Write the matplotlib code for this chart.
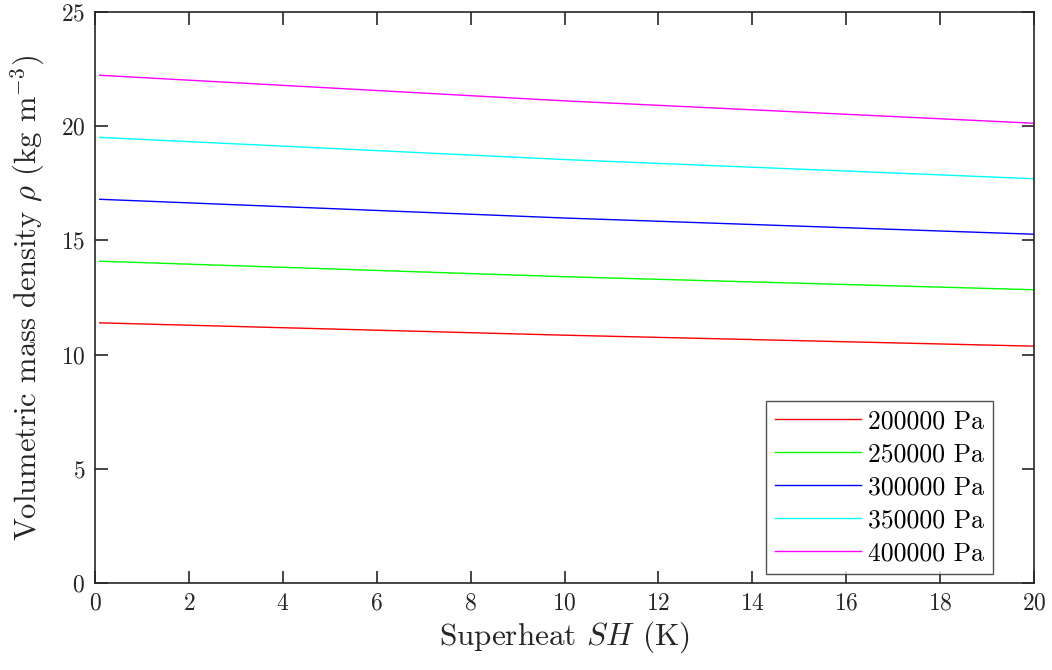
import numpy as np
import matplotlib
matplotlib.use("Agg")
import matplotlib.pyplot as plt

# Data
superheat = [0.1, 10, 20]
labels = ["200000 Pa", "250000 Pa", "300000 Pa", "350000 Pa", "400000 Pa"]
rho_200k = [11.39, 10.85, 10.37]
rho_250k = [14.09, 13.41, 12.84]
rho_300k = [16.80, 15.98, 15.27]
rho_350k = [19.51, 18.54, 17.70]
rho_400k = [22.23, 21.11, 20.13]
colors = ["#ff0000", "#00ff00", "#0000ff", "#00ffff", "#ff00ff"]

plt.rcParams["font.family"] = ["cmr10", "DejaVu Serif"]
plt.rcParams["mathtext.fontset"] = "cm"
plt.rcParams["axes.formatter.use_mathtext"] = True
plt.rcParams["axes.unicode_minus"] = False

fig = plt.figure(figsize=(10.52, 6.70), dpi=100)
ax = fig.add_axes([95/1052, 87/670, (1034-95)/1052, (583-12)/670])

series = [rho_200k, rho_250k, rho_300k, rho_350k, rho_400k]
for ys, c, lab in zip(series, colors, labels):
    ax.plot(superheat, ys, color=c, lw=1.0, label=lab)

ax.set_xlim(0, 20)
ax.set_ylim(0, 25)
ax.set_xticks(np.arange(0, 21, 2))
ax.set_yticks(np.arange(0, 26, 5))
edge = "#262626"
for s in ax.spines.values():
    s.set_color(edge)
    s.set_linewidth(1.2)
ax.tick_params(direction="in", length=9, width=1.2, colors=edge, labelcolor=edge,
               labelsize=17, top=True, right=True, pad=7)
ax.set_xlabel(r"Superheat $SH$ (K)", fontsize=22.5, color=edge, labelpad=3)
ax.set_ylabel(r"Volumetric mass density $\rho$ (kg m$^{-3}$)", fontsize=22, color=edge, labelpad=10)

leg = ax.legend(loc="lower right", bbox_to_anchor=(0.956, 0.0166), borderaxespad=0,
                fontsize=18.5, frameon=True, fancybox=False,
                edgecolor=edge, handlelength=3.35, handletextpad=0.3,
                labelspacing=0.36, borderpad=0.32)
leg.get_frame().set_linewidth(1.0)

fig.savefig("out.png", dpi=100)
